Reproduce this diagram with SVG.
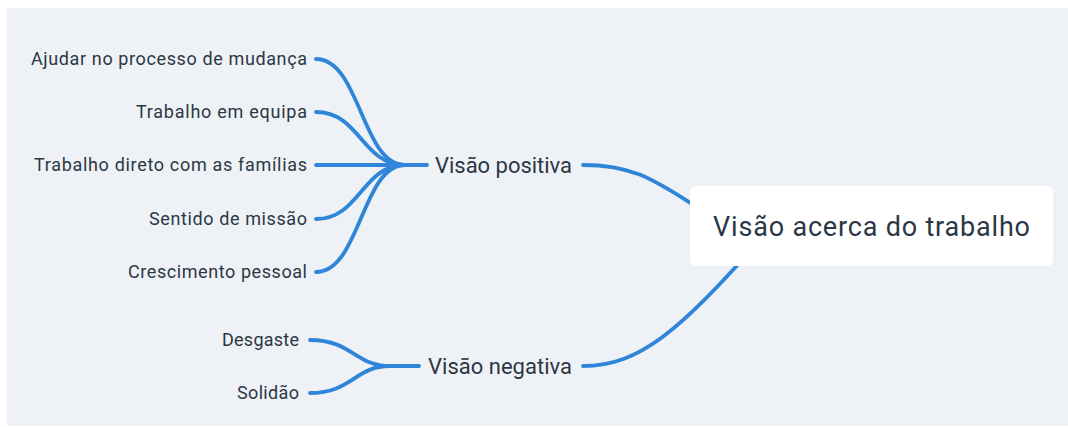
<svg xmlns="http://www.w3.org/2000/svg" width="1068" height="427" viewBox="0 0 1068 427">
<style>
.bg{fill:#eef2f6}
.ln{fill:none;stroke:#2f86d9;stroke-width:3.8;stroke-linecap:round}
.t{font-family:Roboto,"Liberation Sans",sans-serif;fill:#2b3744}
.leaf{font-size:18px;text-anchor:end}
.mid{font-size:22px}
.root{font-size:27px}
</style>
<rect x="0" y="0" width="1068" height="427" fill="#ffffff"/>
<rect class="bg" x="7" y="8" width="1061" height="418"/>
<g id="connectors">
<path class="ln" d="M583,165 C640,165 660,185 710,215"/>
<path class="ln" d="M583,366 C640,366 680,330 760,240"/>
<path class="ln" d="M316,59 C360,59 362,165 405,165"/>
<path class="ln" d="M316,112 C360,112 362,165 405,165"/>
<path class="ln" d="M316,165 L405,165"/>
<path class="ln" d="M316,219 C360,219 362,165 405,165"/>
<path class="ln" d="M316,272 C360,272 362,165 405,165"/>
<path class="ln" d="M405,165 L427,165"/>
<path class="ln" d="M310,340 C352,340 355,366 390,366"/>
<path class="ln" d="M310,393 C352,393 355,366 390,366"/>
<path class="ln" d="M390,366 L419,366"/>
</g>
<g id="root">
<rect x="690" y="186" width="363" height="80" rx="6" fill="#ffffff"/>
<text class="t root" x="713" y="236" textLength="317" lengthAdjust="spacing">Visão acerca do trabalho</text>
</g>
<g id="positiva">
<text class="t mid" x="435" y="173" textLength="137" lengthAdjust="spacing">Visão positiva</text>
</g>
<g id="negativa">
<text class="t mid" x="428" y="374" textLength="144" lengthAdjust="spacing">Visão negativa</text>
</g>
<g id="n1"><text class="t leaf" x="307" y="65" textLength="276" lengthAdjust="spacing">Ajudar no processo de mudança</text></g>
<g id="n2"><text class="t leaf" x="307" y="118" textLength="171" lengthAdjust="spacing">Trabalho em equipa</text></g>
<g id="n3"><text class="t leaf" x="307" y="171" textLength="273" lengthAdjust="spacing">Trabalho direto com as famílias</text></g>
<g id="n4"><text class="t leaf" x="307" y="225" textLength="158" lengthAdjust="spacing">Sentido de missão</text></g>
<g id="n5"><text class="t leaf" x="307" y="278" textLength="179" lengthAdjust="spacing">Crescimento pessoal</text></g>
<g id="n6"><text class="t leaf" x="299" y="346" textLength="77" lengthAdjust="spacing">Desgaste</text></g>
<g id="n7"><text class="t leaf" x="299" y="399" textLength="62" lengthAdjust="spacing">Solidão</text></g>
</svg>
